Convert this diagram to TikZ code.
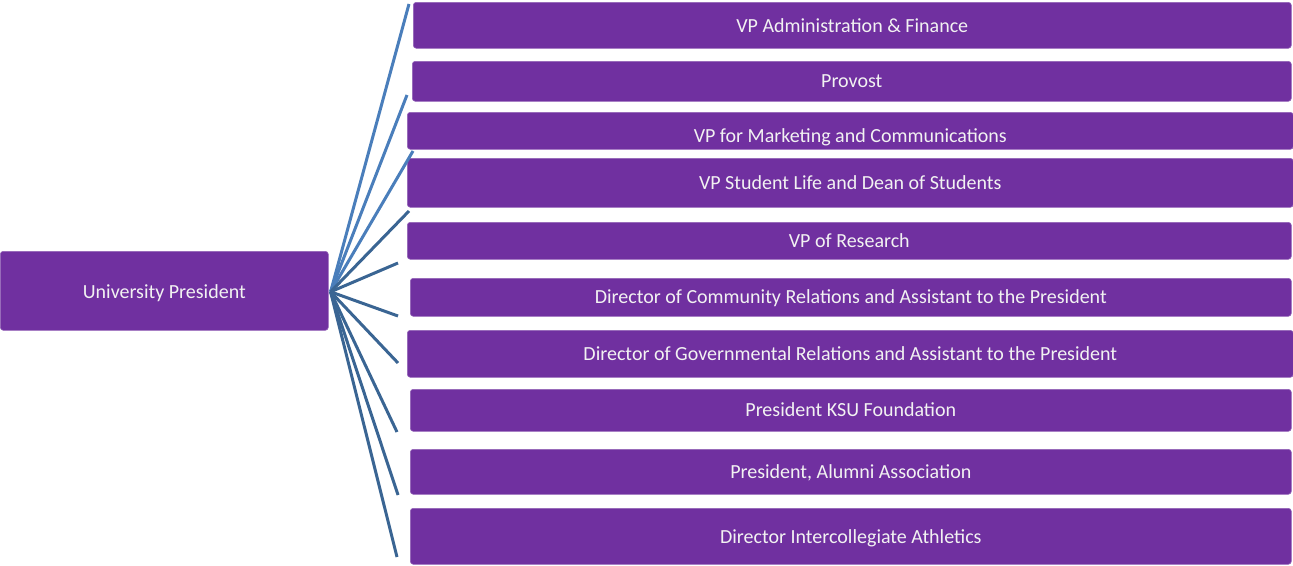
\documentclass[tikz,border=0pt]{standalone}
\usepackage{fontspec}
\setmainfont{Carlito}
\usetikzlibrary{calc}
\definecolor{boxpurple}{HTML}{7030A0}
\definecolor{linklight}{HTML}{4A7EBB}
\definecolor{linkdark}{HTML}{3A6593}
\tikzset{>=latex}
\tikzset{unitbox/.style={fill=boxpurple,draw=boxpurple!75!white,line width=0.6pt,rounded corners=3pt,
    text=white!95!black,inner sep=0pt,anchor=north west,text depth=4pt,font=\fontsize{20}{24}\selectfont}}

\begin{document}
\begin{tikzpicture}[x=1pt,y=-1pt]
    \useasboundingbox (0,0) rectangle (1293,565);
    \node[unitbox,minimum width=328pt,minimum height=79pt,text height=19pt] (pres) at (0,251) {University President};
    % units reporting to the president
    \foreach \n/\l/\t/\r/\b/\th/\name in {
        1/413/2/1291/48/18/{VP Administration \& Finance},
        2/412/61/1291/101/16/{Provost},
        3/407/112/1293/149/28/{VP for Marketing and Communications},
        4/407/158/1293/207/18/{VP Student Life and Dean of Students},
        5/407/222/1291/259/18/{VP of Research},
        6/410/278/1291/316/17/{Director of Community Relations and Assistant to the President},
        7/407/330/1293/377/18/{Director of Governmental Relations and Assistant to the President},
        8/410/389/1291/431/16/{President KSU Foundation},
        9/410/449/1291/494/18/{President, Alumni Association},
        10/410/508/1291/564/18/{Director Intercollegiate Athletics}} {
      \pgfmathsetmacro\w{\r-\l}
      \pgfmathsetmacro\h{\b-\t}
      \node[unitbox,minimum width=\w pt,minimum height=\h pt,text height=\th pt] (unit\n) at (\l,\t) {\name};
    }
    \foreach \n/\x/\y/\c in {1/409/4/linklight, 2/407/95/linklight, 3/413/151/linklight,
        4/409/211/linkdark, 5/398/263/linkdark, 6/398/316/linkdark, 7/398/363/linkdark,
        8/397/432/linkdark, 9/398/495/linkdark, 10/397/557/linkdark} {
      \coordinate (end\n) at (\x,\y);
      \draw[color=\c,line width=3pt] ($(pres.east)+(2,1)$) -- (end\n);
    }
\end{tikzpicture}
\end{document}
